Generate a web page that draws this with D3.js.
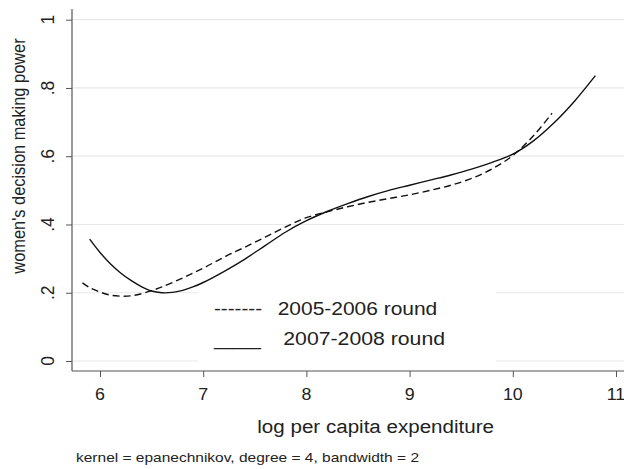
<!DOCTYPE html>
<html>
<head>
<meta charset="utf-8">
<script src="https://cdn.jsdelivr.net/npm/d3@7/dist/d3.min.js"></script>
<style>
  html, body { margin: 0; padding: 0; background: #fff; }
  svg { display: block; font-family: "Liberation Sans", Arial, Helvetica, sans-serif; }
</style>
</head>
<body>
<svg id="chart" width="624" height="469"></svg>
<script>
// ---- data ----
const xTicks = [6, 7, 8, 9, 10, 11];
const yTicks = [0, 0.2, 0.4, 0.6, 0.8, 1];
const yTickLabels = ["0", ".2", ".4", ".6", ".8", "1"];

// 2005-2006 round (dashed)
const x2005 = [5.83, 5.9, 6.0, 6.1, 6.2, 6.3, 6.4, 6.5, 6.6, 6.8, 7.0, 7.2, 7.4, 7.6, 7.8, 8.0, 8.2, 8.4, 8.6, 8.8, 9.0, 9.2, 9.4, 9.6, 9.8, 10.0, 10.2, 10.38];
const y2005 = [0.229, 0.215, 0.202, 0.193, 0.190, 0.191, 0.197, 0.206, 0.217, 0.243, 0.272, 0.304, 0.333, 0.363, 0.393, 0.420, 0.437, 0.452, 0.465, 0.476, 0.487, 0.500, 0.515, 0.535, 0.563, 0.602, 0.660, 0.726];

// 2007-2008 round (solid)
const x2007 = [5.9, 6.0, 6.1, 6.2, 6.3, 6.4, 6.5, 6.6, 6.7, 6.8, 6.9, 7.0, 7.2, 7.4, 7.6, 7.8, 8.0, 8.2, 8.4, 8.6, 8.8, 9.0, 9.2, 9.4, 9.6, 9.8, 10.0, 10.2, 10.4, 10.6, 10.8];
const y2007 = [0.357, 0.318, 0.285, 0.258, 0.236, 0.218, 0.205, 0.200, 0.201, 0.207, 0.217, 0.230, 0.262, 0.298, 0.338, 0.378, 0.411, 0.438, 0.461, 0.482, 0.500, 0.515, 0.530, 0.545, 0.562, 0.582, 0.606, 0.645, 0.698, 0.762, 0.836];

const legendLabels = ["2005-2006 round", "2007-2008 round"];
const legendKeys = ["-------", "_____"];
const xTitle = "log per capita expenditure";
const yTitle = "women's decision making power";
const note = "kernel = epanechnikov, degree = 4, bandwidth = 2";

// ---- layout ----
const svg = d3.select("#chart");
const plotLeft = 72, plotRight = 624, plotTop = 9, plotBottom = 371;
const x = d3.scaleLinear().domain([6, 11]).range([100, 616]);
const y = d3.scaleLinear().domain([0, 1]).range([361, 19.7]);

// gridlines
svg.append("g").selectAll("line").data(yTicks).join("line")
  .attr("x1", plotLeft + 1).attr("x2", plotRight)
  .attr("y1", d => y(d)).attr("y2", d => y(d))
  .attr("stroke", "#e8e8e8").attr("stroke-width", 1.2);

// axes
const axisColor = "#555";
const yAxis = svg.append("g").attr("transform", `translate(${plotLeft},0)`)
  .call(d3.axisLeft(y).tickValues(yTicks).tickSize(6).tickFormat(""));
yAxis.select(".domain").remove();
yAxis.selectAll(".tick line").attr("stroke", axisColor);
svg.append("line").attr("x1", plotLeft).attr("x2", plotLeft)
  .attr("y1", plotTop).attr("y2", plotBottom).attr("stroke", axisColor).attr("stroke-width", 1.2);

const xAxis = svg.append("g").attr("transform", `translate(0,${plotBottom})`)
  .call(d3.axisBottom(x).tickValues(xTicks).tickSize(6).tickFormat(""));
xAxis.select(".domain").remove();
xAxis.selectAll(".tick line").attr("stroke", axisColor);
svg.append("line").attr("x1", plotLeft).attr("x2", plotRight)
  .attr("y1", plotBottom).attr("y2", plotBottom).attr("stroke", axisColor).attr("stroke-width", 1.2);

// tick labels
svg.append("g").selectAll("text").data(xTicks).join("text")
  .attr("x", d => x(d)).attr("y", 400.5)
  .attr("text-anchor", "middle").attr("font-size", 16.5).attr("fill", "#222")
  .attr("transform", d => `translate(${x(d)},0) scale(1.08,1) translate(${-x(d)},0)`)
  .text(d => d);

svg.append("g").selectAll("text").data(yTicks).join("text")
  .attr("transform", d => `translate(53.5,${y(d)}) rotate(-90) scale(1,1.1)`)
  .attr("text-anchor", "middle").attr("font-size", 17.5).attr("fill", "#222")
  .text((d, i) => yTickLabels[i]);

// legend box (white, covers gridlines)
svg.append("rect").attr("x", 198).attr("y", 284).attr("width", 298).attr("height", 83)
  .attr("fill", "#fff");

// curves
const line = d3.line().x(d => x(d[0])).y(d => y(d[1])).curve(d3.curveCatmullRom.alpha(0.5));
svg.append("path").datum(d3.zip(x2005, y2005)).attr("d", line)
  .attr("fill", "none").attr("stroke", "#111").attr("stroke-width", 1.4)
  .attr("stroke-dasharray", "7,4");
svg.append("path").datum(d3.zip(x2007, y2007)).attr("d", line)
  .attr("fill", "none").attr("stroke", "#111").attr("stroke-width", 1.4);

// legend
const lg = svg.append("g").attr("fill", "#222").attr("font-size", 18.5);
lg.append("text").attr("x", 214).attr("y", 315).attr("textLength", 48).attr("lengthAdjust", "spacingAndGlyphs").text(legendKeys[0]);
lg.append("text").attr("x", 277.7).attr("y", 315).attr("textLength", 159.6).attr("lengthAdjust", "spacingAndGlyphs").text(legendLabels[0]);
lg.append("text").attr("x", 214).attr("y", 345).attr("textLength", 47).attr("lengthAdjust", "spacingAndGlyphs").text(legendKeys[1]);
lg.append("text").attr("x", 283.3).attr("y", 345).attr("textLength", 161.7).attr("lengthAdjust", "spacingAndGlyphs").text(legendLabels[1]);

// axis titles
svg.append("text").attr("x", 257.3).attr("y", 432.7).attr("font-size", 18).attr("fill", "#222")
  .attr("textLength", 236.7).attr("lengthAdjust", "spacingAndGlyphs").text(xTitle);
svg.append("text").attr("transform", "translate(24.5,156) rotate(-90) scale(1,1.1)")
  .attr("text-anchor", "middle").attr("font-size", 16.4).attr("fill", "#222").text(yTitle);

// note
svg.append("text").attr("x", 76).attr("y", 462).attr("font-size", 13.5).attr("fill", "#222")
  .attr("textLength", 343).attr("lengthAdjust", "spacingAndGlyphs").text(note);
</script>
</body>
</html>
